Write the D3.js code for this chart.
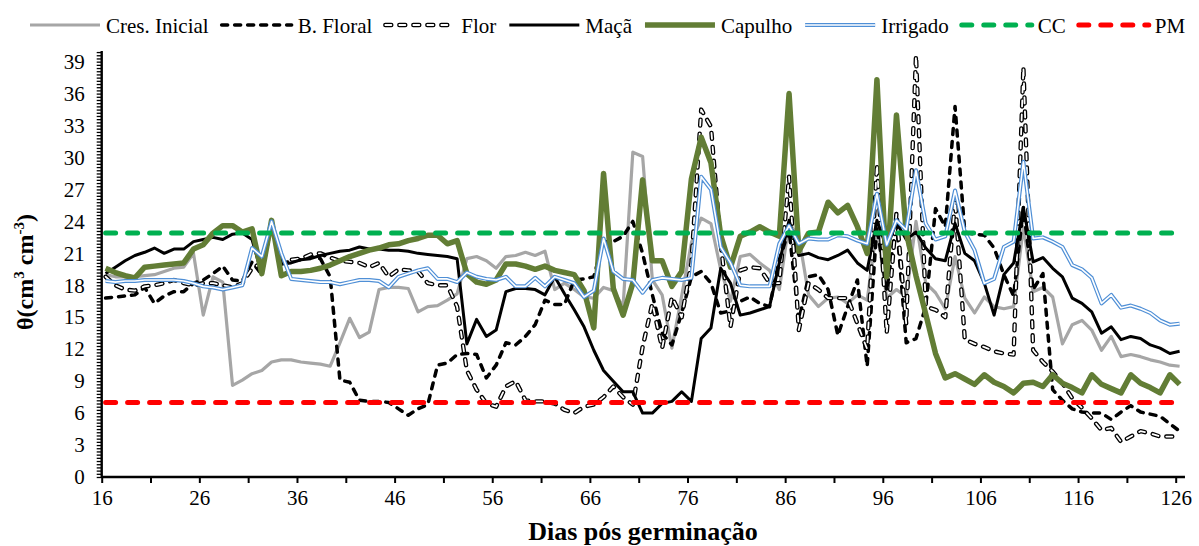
<!DOCTYPE html>
<html>
<head>
<meta charset="utf-8">
<script src="https://cdn.jsdelivr.net/npm/d3@7"></script>
<style>
  body { margin: 0; background: #fff; }
  svg { display: block; }
  text { font-family: "Liberation Serif", "Times New Roman", serif; fill: #000; }
</style>
</head>
<body>
<svg id="chart" width="1199" height="546"></svg>
<script>
// ---- data (days after germination 16..126) ----
const days = d3.range(16, 127);
const xTickDays = d3.range(16, 127, 5);
const xLabelDays = d3.range(16, 127, 10);
const yLabels = d3.range(0, 40, 3);

const cresInicial = [
  19.0, 18.8, 18.8, 18.8, 18.9, 19.0, 19.3, 19.6, 19.7, 21.0,
  15.2, 18.8, 18.3, 8.6, 9.1, 9.7, 10.0, 10.8, 11.0, 11.0,
  10.8, 10.7, 10.6, 10.4, 12.6, 14.9, 13.1, 13.6, 17.6, 17.8,
  17.8, 17.7, 15.5, 16.0, 16.1, 16.6, 17.2, 20.5, 20.7, 20.3,
  19.6, 20.7, 20.8, 21.1, 20.8, 21.2, 17.6, 18.2, 17.6, 16.9,
  16.8, 17.8, 17.5, 16.0, 30.5, 30.1, 18.5, 17.1, 12.1, 17.0,
  22.0, 24.3, 23.8, 19.5, 16.5, 20.7, 20.9, 20.1, 19.4, 17.6,
  23.8, 22.6, 17.1, 16.0, 16.8, 16.9, 16.3, 17.1, 16.6, 23.5,
  16.8, 17.6, 16.9, 24.0, 18.2, 17.3, 15.8, 20.7, 16.8, 15.4,
  16.9, 16.0, 15.8, 16.0, 23.5, 17.4, 17.8, 16.9, 12.5, 14.3,
  14.7, 13.8, 11.9, 13.2, 11.3, 11.5, 11.3, 11.0, 10.8, 10.5,
  10.4
];
const bFloral = [
  16.8, 16.9, 17.0, 17.1, 17.8, 16.3, 17.0, 17.4, 17.4, 18.2,
  18.5, 19.1, 19.8, 18.5, 18.4, 20.2, 19.0, 23.8, 20.0, 20.3,
  20.4, 20.7, 20.5, 18.8, 9.1, 8.9, 7.2, 7.1, 7.1, 7.0,
  6.4, 5.8, 6.4, 6.8, 10.5, 10.7, 11.5, 11.6, 11.5, 9.3,
  10.5, 12.6, 12.4, 13.2, 14.3, 16.6, 16.2, 16.2, 18.5, 18.6,
  18.8, 22.1, 22.1, 22.6, 24.0, 21.0, 17.1, 13.5, 12.4, 15.4,
  18.8, 19.3, 18.2, 15.4, 15.6, 16.5, 16.9, 16.3, 16.0, 20.4,
  23.2, 14.7, 18.8, 19.0, 17.6, 13.3, 16.0, 18.5, 10.4, 23.5,
  17.5, 24.0, 12.6, 13.0, 16.0, 25.2, 23.5, 34.8, 23.0, 22.8,
  22.7, 21.5, 19.0, 17.0, 25.3, 17.6, 19.1, 8.2, 7.2, 6.4,
  6.1, 6.0, 6.0, 5.4, 6.1, 6.7, 6.1, 5.9, 5.7, 5.0,
  4.3
];
const flor = [
  18.8, 18.0, 17.6, 17.5, 17.9, 18.0, 18.2, 18.5, 18.2, 18.0,
  18.2, 18.2, 18.0, 17.8, 18.2, 19.6, 20.1, 23.8, 20.1, 20.4,
  20.5, 20.9, 21.0, 20.6, 20.3, 20.2, 20.1, 19.7, 20.1, 18.8,
  19.5, 19.4, 19.3, 18.2, 18.0, 18.0, 16.0, 10.0, 8.2, 6.9,
  6.6, 8.5, 9.0, 7.2, 7.1, 7.1, 6.9, 6.3, 6.0, 6.6,
  6.8, 7.5, 8.5, 7.5, 6.8, 12.2, 16.3, 12.1, 16.9, 15.0,
  20.1, 34.5, 32.9, 21.9, 14.1, 19.4, 19.7, 19.6, 18.2, 18.2,
  28.2, 13.8, 18.2, 17.6, 16.8, 16.8, 16.8, 14.4, 12.0, 29.4,
  13.5, 24.8, 14.4, 39.6, 16.0, 15.7, 15.0, 26.0, 12.9, 12.5,
  12.2, 11.8, 11.6, 11.5, 38.5, 11.9, 10.8, 9.9, 8.8, 7.4,
  6.5, 5.5, 4.4, 4.6, 3.3, 3.8, 4.3, 4.1, 3.8, 3.8,
  3.8
];
const maca = [
  19.1, 19.7, 20.3, 20.8, 21.1, 21.5, 21.0, 21.4, 21.4, 22.1,
  22.3, 22.5, 22.3, 22.8, 22.9, 22.3, 19.0, 24.0, 20.0, 20.1,
  20.4, 20.5, 20.8, 21.0, 21.2, 21.3, 21.6, 21.4, 21.4, 21.3,
  21.3, 21.2, 21.0, 20.9, 20.8, 20.7, 20.5, 12.5, 14.8, 13.2,
  13.8, 17.4, 17.7, 17.7, 17.6, 17.1, 18.8, 17.2, 15.7, 14.1,
  11.9, 10.0, 9.0, 8.0, 8.0, 6.0, 6.0, 6.9, 7.1, 8.0,
  7.1, 13.0, 14.0, 19.6, 18.2, 15.2, 15.4, 15.7, 16.0, 20.1,
  24.1, 20.8, 21.0, 20.6, 20.4, 20.8, 21.3, 20.1, 19.4, 24.1,
  21.5, 23.9, 22.3, 23.0, 21.5, 20.5, 20.3, 23.8, 21.0, 20.3,
  18.2, 15.2, 19.0, 20.1, 25.3, 20.2, 20.6, 19.6, 18.8, 16.8,
  16.3, 15.5, 13.5, 14.1, 12.9, 13.2, 13.0, 12.4, 12.1, 11.6,
  11.8
];
const capulho = [
  19.6, 19.2, 18.9, 18.7, 19.7, 19.8, 19.9, 20.0, 20.1, 21.4,
  21.8, 22.9, 23.6, 23.6, 23.0, 23.3, 19.1, 24.1, 18.9, 19.3,
  19.3, 19.4, 19.6, 19.9, 20.3, 20.7, 21.0, 21.3, 21.5, 21.8,
  21.9, 22.2, 22.4, 22.7, 22.7, 21.9, 22.2, 19.1, 18.3, 18.1,
  18.5, 20.0, 20.0, 19.8, 19.5, 19.8, 19.4, 19.2, 19.0, 17.5,
  14.0, 28.5, 17.7, 15.2, 18.2, 27.9, 20.3, 20.3, 17.9, 19.3,
  28.0, 31.9, 29.5, 22.7, 19.7, 22.6, 23.0, 23.5, 23.0, 22.6,
  36.0, 21.2, 22.9, 23.0, 25.8, 24.8, 25.5, 23.5, 21.0, 37.3,
  18.8, 34.0, 23.0, 18.9, 15.3, 11.6, 9.3, 9.7, 9.2, 8.7,
  9.6, 8.9, 8.5, 7.9, 8.8, 8.9, 8.5, 9.6, 8.8, 8.4,
  7.9, 9.6, 8.7, 8.3, 7.9, 9.6, 8.8, 8.4, 7.9, 9.6,
  8.7
];
const irrigado = [
  18.4, 18.3, 18.4, 18.4, 18.5, 18.5, 18.5, 18.5, 18.4, 18.2,
  17.9, 17.8, 17.6, 17.8, 18.0, 21.5, 20.7, 24.0, 21.0, 18.6,
  18.5, 18.4, 18.3, 18.3, 18.1, 18.3, 18.5, 18.5, 18.4, 17.8,
  18.8, 19.1, 19.4, 19.6, 18.6, 18.6, 18.3, 19.2, 18.8, 18.6,
  18.5, 18.8, 17.9, 17.9, 18.7, 17.9, 18.8, 18.5, 18.2, 16.9,
  17.5, 22.4, 19.3, 18.6, 18.5, 17.3, 18.5, 18.7, 18.6, 18.5,
  18.7, 28.2, 27.0, 21.6, 20.1, 18.0, 17.9, 17.9, 17.9, 21.9,
  23.6, 21.9, 22.4, 22.3, 22.3, 22.7, 22.6, 22.2, 21.9, 26.6,
  21.8, 24.1, 23.2, 28.8, 23.8, 22.3, 22.6, 26.9, 23.0, 21.3,
  18.2, 18.6, 21.6, 22.1, 29.6, 22.4, 22.5, 22.1, 21.6, 19.9,
  19.5, 18.7, 16.3, 17.1, 15.9, 16.1, 15.8, 15.4, 14.7, 14.3,
  14.4
];
const ccValue = 22.9;   // capacidade de campo
const pmValue = 7.0;    // ponto de murcha

// ---- series styles (drawn in legend order) ----
const series = [
  { name: 'Cres. Inicial', values: cresInicial, kind: 'solid', color: '#a6a6a6', width: 3.2 },
  { name: 'B. Floral', values: bFloral, kind: 'dash', color: '#000', width: 3.5, dash: '6,7' },
  { name: 'Flor', values: flor, kind: 'outlineDash', color: '#000', width: 4.4, dash: '6,8' },
  { name: 'Maçã', values: maca, kind: 'solid', color: '#000', width: 3 },
  { name: 'Capulho', values: capulho, kind: 'solid', color: '#627d35', width: 5.5 },
  { name: 'Irrigado', values: irrigado, kind: 'double', color: '#4f8fd6', width: 4 },
  { name: 'CC', values: days.map(() => ccValue), kind: 'dash', color: '#00b050', width: 5, dash: '10,12' },
  { name: 'PM', values: days.map(() => pmValue), kind: 'dash', color: '#ff0000', width: 5, dash: '10,12' },
];

// ---- scales ----
const svg = d3.select('#chart');
const x = d3.scaleLinear().domain([16, 126]).range([101.7, 1175.7]);
const y = d3.scaleLinear().domain([0, 40]).range([477, 51]);
const POINT_SHIFT = 0.4; // points sit a little right of the day ticks

const line = d3.line()
  .x((v, i) => x(days[i] + POINT_SHIFT))
  .y(v => y(v));

// draw one styled stroke (used for plot lines and legend samples)
function drawStyled(g, s, d) {
  if (s.kind === 'solid') {
    g.append('path').attr('d', d).attr('fill', 'none')
      .attr('stroke', s.color).attr('stroke-width', s.width)
      .attr('stroke-linejoin', 'round');
  } else if (s.kind === 'dash') {
    g.append('path').attr('d', d).attr('fill', 'none')
      .attr('stroke', s.color).attr('stroke-width', s.width)
      .attr('stroke-dasharray', s.dash).attr('stroke-linecap', 'round')
      .attr('stroke-linejoin', 'round');
  } else if (s.kind === 'outlineDash') {
    g.append('path').attr('d', d).attr('fill', 'none')
      .attr('stroke', '#000').attr('stroke-width', s.width)
      .attr('stroke-dasharray', s.dash).attr('stroke-linecap', 'round')
      .attr('stroke-linejoin', 'round');
    g.append('path').attr('d', d).attr('fill', 'none')
      .attr('stroke', '#fff').attr('stroke-width', s.width - 2.6)
      .attr('stroke-dasharray', s.dash).attr('stroke-linecap', 'round')
      .attr('stroke-linejoin', 'round');
  } else if (s.kind === 'double') {
    g.append('path').attr('d', d).attr('fill', 'none')
      .attr('stroke', s.color).attr('stroke-width', s.width)
      .attr('stroke-linejoin', 'round');
    g.append('path').attr('d', d).attr('fill', 'none')
      .attr('stroke', '#fff').attr('stroke-width', s.width - 2.4)
      .attr('stroke-linejoin', 'round');
  }
}

// ---- axes ----
const axisEnd = x(126.95);

// x axis
const xAxis = d3.axisBottom(x)
  .tickValues(xTickDays)
  .tickSize(6)
  .tickPadding(7)
  .tickFormat(d => xLabelDays.includes(d) ? d : '');
const gx = svg.append('g').attr('transform', `translate(0,${y(0)})`).call(xAxis);
gx.select('.domain').remove();
gx.selectAll('.tick line').attr('stroke', '#000').attr('stroke-width', 2);
gx.selectAll('.tick text').attr('font-size', 21).attr('font-family', '"Liberation Serif", serif');

// y axis: labels every 3, minor ticks every 0.3
const yMinor = d3.range(0, 134).map(i => +(i * 0.3).toFixed(1));
const yAxis = d3.axisLeft(y)
  .tickValues(yMinor)
  .tickSize(5)
  .tickPadding(12)
  .tickFormat(d => yLabels.includes(d) ? d : '');
const gy = svg.append('g').attr('transform', `translate(${x(16)},0)`).call(yAxis);
gy.select('.domain').remove();
gy.selectAll('.tick line').attr('stroke', '#000').attr('stroke-width', 1.3);
gy.selectAll('.tick text').attr('font-size', 21).attr('font-family', '"Liberation Serif", serif');

// axis lines
svg.append('line')
  .attr('x1', x(16)).attr('x2', axisEnd)
  .attr('y1', y(0)).attr('y2', y(0))
  .attr('stroke', '#000').attr('stroke-width', 2.4);
svg.append('line')
  .attr('x1', x(16)).attr('x2', x(16))
  .attr('y1', y(0) + 1).attr('y2', y(40))
  .attr('stroke', '#000').attr('stroke-width', 2.4);

// ---- series ----
const plot = svg.append('g');
series.forEach(s => {
  drawStyled(plot.append('g'), s, line(s.values));
});

// ---- legend ----
const legend = svg.append('g');
let lx = 30;
series.forEach(s => {
  const g = legend.append('g');
  drawStyled(g, s, `M${lx},25H${lx + 70}`);
  const t = g.append('text')
    .attr('x', lx + 76).attr('y', 33)
    .attr('font-size', 21)
    .text(s.name);
  lx += 76 + t.node().getComputedTextLength() + 13;
});

// ---- axis titles ----
svg.append('text')
  .attr('x', 643).attr('y', 540)
  .attr('text-anchor', 'middle')
  .attr('font-size', 26).attr('font-weight', 'bold')
  .text('Dias pós germinação');

const yTitle = svg.append('text')
  .attr('transform', 'translate(33,272) rotate(-90)')
  .attr('text-anchor', 'middle')
  .attr('font-size', 24).attr('font-weight', 'bold');
yTitle.append('tspan').text('θ(cm');
yTitle.append('tspan').attr('font-size', 15).attr('dy', -9).text('3');
yTitle.append('tspan').attr('dy', 9).text(' cm');
yTitle.append('tspan').attr('font-size', 15).attr('dy', -9).text('-3');
yTitle.append('tspan').attr('dy', 9).text(')');
</script>
</body>
</html>
